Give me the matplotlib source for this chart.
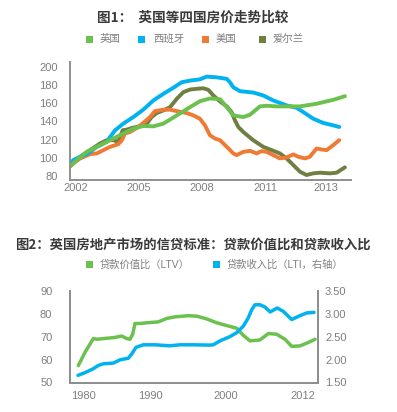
import matplotlib
matplotlib.use('Agg')
import matplotlib.pyplot as plt
from matplotlib.patches import Rectangle

plt.rcParams['font.family'] = ['Liberation Sans', 'Noto Sans CJK SC']

W, H = 397, 412

# ---- 图1 数据 (读图估算, 指数) ----
uk_x = [2001.71, 2002.03, 2002.51, 2002.99, 2003.62, 2004.25, 2004.73, 2005.20, 2005.68,
        2006.16, 2006.80, 2007.43, 2007.90, 2008.38, 2008.86, 2009.18, 2009.49, 2009.97,
        2010.29, 2010.76, 2011.08, 2011.56, 2012.19, 2012.67, 2013.46, 2014.25, 2014.81]
uk_y = [90.2, 97.5, 106.5, 112.0, 119.3, 126.6, 132.0, 134.9, 134.5,
        137.5, 146.5, 155.6, 162.1, 165.1, 164.3, 155.6, 146.5, 144.7,
        147.3, 156.4, 157.1, 156.4, 156.4, 156.4, 159.3, 163.6, 167.6]

es_x = [2001.67, 2001.87, 2002.19, 2002.51, 2002.99, 2003.46, 2003.62, 2003.86, 2004.25,
        2004.73, 2005.20, 2005.68, 2006.16, 2006.63, 2007.03, 2007.43, 2007.90, 2008.22,
        2008.70, 2009.18, 2009.33, 2009.49, 2009.81, 2010.44, 2010.92, 2011.40, 2012.03,
        2012.51, 2012.83, 2013.30, 2013.78, 2014.25, 2014.54]
es_y = [92.0, 97.5, 101.1, 104.0, 112.0, 117.4, 122.9, 130.2, 137.5,
        144.7, 152.8, 162.9, 170.2, 176.8, 182.9, 184.7, 186.1, 189.1,
        188.3, 186.6, 182.9, 177.4, 173.1, 171.6, 168.4, 162.9, 157.5,
        154.9, 150.1, 142.9, 138.2, 135.6, 133.8]

us_x = [2001.71, 2002.19, 2002.67, 2002.99, 2003.30, 2003.62, 2004.01, 2004.18, 2004.33,
        2004.57, 2004.89, 2005.20, 2005.52, 2005.76, 2006.16, 2006.48, 2006.80, 2007.27,
        2007.59, 2007.90, 2008.14, 2008.38, 2008.62, 2008.86, 2009.18, 2009.49, 2009.65,
        2009.97, 2010.29, 2010.60, 2010.84, 2011.08, 2011.40, 2011.71, 2012.03, 2012.35,
        2012.59, 2012.90, 2013.14, 2013.46, 2013.70, 2013.94, 2014.25, 2014.54]
us_y = [91.2, 99.3, 104.0, 104.8, 108.4, 112.0, 114.9, 119.3, 126.6,
        128.3, 132.7, 138.2, 144.7, 151.2, 152.8, 152.8, 151.2, 149.1,
        146.5, 142.9, 135.6, 124.7, 121.1, 119.3, 112.0, 104.8, 102.9,
        106.5, 107.6, 104.8, 107.3, 106.5, 102.9, 99.3, 100.4, 103.7,
        101.1, 99.3, 101.1, 110.2, 109.1, 108.4, 113.8, 119.3]

ie_x = [2001.71, 2002.19, 2002.67, 2003.14, 2003.46, 2003.78, 2004.01, 2004.22, 2004.41,
        2004.73, 2005.05, 2005.37, 2005.60, 2005.84, 2006.16, 2006.48, 2006.80, 2007.11,
        2007.43, 2007.75, 2008.06, 2008.30, 2008.54, 2008.86, 2009.18, 2009.41, 2009.57,
        2009.73, 2009.97, 2010.44, 2010.92, 2011.24, 2011.71, 2012.03, 2012.35, 2012.67,
        2012.98, 2013.30, 2013.62, 2014.10, 2014.41, 2014.81]
ie_y = [91.2, 101.1, 108.4, 115.7, 119.3, 119.3, 117.4, 130.2, 130.9,
        133.1, 134.5, 137.5, 144.7, 149.1, 152.0, 155.6, 164.8, 172.0,
        174.9, 175.7, 176.3, 174.6, 168.4, 161.8, 156.4, 150.1, 141.1,
        133.8, 128.3, 119.3, 112.0, 109.1, 104.8, 99.3, 92.0, 84.7,
        81.1, 82.9, 83.6, 82.9, 83.6, 89.5]

fig1_ticks = [2002, 2005, 2008, 2011, 2013.9]
fig1_labels = ['2002', '2005', '2008', '2011', '2013']
fig1_yticks = [80, 100, 120, 140, 160, 180, 200]

# ---- 图2 数据 ----
ltv_x = [1980.04, 1980.95, 1982.07, 1982.53, 1983.42, 1984.77, 1985.91, 1986.58, 1987.03,
         1987.39, 1987.70, 1988.38, 1989.28, 1990.85, 1991.99, 1993.11, 1994.91, 1996.04,
         1997.39, 1998.74, 2000.09, 2001.45, 2002.34, 2003.24, 2004.59, 2005.72, 2006.85,
         2007.97, 2008.88, 2010.00, 2011.12, 2012.03]
ltv_y = [57.4, 63.2, 69.2, 68.9, 69.2, 69.6, 70.3, 69.2, 68.9,
         71.1, 75.8, 75.8, 76.1, 76.5, 78.0, 78.7, 79.2, 79.0,
         77.8, 76.1, 74.9, 73.7, 70.6, 68.2, 68.6, 71.4, 71.1,
         68.9, 65.8, 66.0, 67.5, 68.9]

lti_x = [1980.00, 1980.95, 1982.07, 1982.74, 1983.42, 1984.77, 1985.68, 1986.80, 1987.26,
         1987.84, 1988.82, 1990.41, 1992.43, 1993.78, 1995.58, 1997.84, 1998.28, 1999.19,
         2000.54, 2001.45, 2002.34, 2003.01, 2003.47, 2003.92, 2004.59, 2005.27, 2005.95,
         2006.93, 2007.74, 2008.88, 2010.00, 2010.91, 2011.89]
lti_y = [1.657, 1.715, 1.801, 1.872, 1.909, 1.924, 1.995, 2.031, 2.124,
         2.268, 2.324, 2.324, 2.302, 2.324, 2.324, 2.317, 2.324, 2.410,
         2.504, 2.590, 2.732, 2.913, 3.091, 3.199, 3.199, 3.149, 3.042,
         3.128, 3.055, 2.876, 2.962, 3.020, 3.033]

fig2_ticks = [1980.7, 1989.8, 2000.0, 2010.4]
fig2_labels = ['1980', '1990', '2000', '2012']

green = '#6cc04e'
blue = '#00b2ef'
orange = '#ee7a35'
olive = '#6f7f42'
axis_grey = '#8f8f8f'
text_grey = '#7f7f7f'
title_col = '#3a3a3a'

fig = plt.figure(figsize=(W / 100, H / 100), dpi=100)


def px_axes(left, right, top, bottom):
    return fig.add_axes([left / W, 1 - bottom / H, (right - left) / W, (bottom - top) / H])


def legend_item(xsq, xtxt, y, label, color, size):
    s = 7
    fig.patches.append(Rectangle(((xsq - s / 2) / W, 1 - (y + s / 2) / H), s / W, s / H,
                                 transform=fig.transFigure, color=color, lw=0))
    fig.text(xtxt / W, 1 - y / H, label, fontsize=size, color=text_grey,
             ha='left', va='center')


# ---------- 图1 ----------
fig.text(193 / W, 1 - 18 / H, '图1：  英国等四国房价走势比较', fontsize=9.8,
         fontweight='bold', color=title_col, ha='center', va='center',
         family=['Noto Sans CJK SC'])
legend_item(89, 100, 39, '英国', green, 7.5)
legend_item(141, 153, 39, '西班牙', blue, 7.5)
legend_item(205, 216, 39, '美国', orange, 7.5)
legend_item(262, 273, 39, '爱尔兰', olive, 7.5)

ax1 = px_axes(70, 351, 62.3, 180)
ax1.plot(ie_x, ie_y, color=olive, lw=2.8, solid_capstyle='round')
ax1.plot(us_x, us_y, color=orange, lw=2.8, solid_capstyle='round')
ax1.plot(es_x, es_y, color=blue, lw=2.8, solid_capstyle='round')
ax1.plot(uk_x, uk_y, color=green, lw=2.8, solid_capstyle='round')
ax1.set_xlim(2001.71, 2015.1)
ax1.set_ylim(75.6, 204.8)
ax1.set_xticks(fig1_ticks)
ax1.set_xticklabels(fig1_labels)
ax1.set_yticks(fig1_yticks)
ax1.tick_params(axis='both', length=0, labelsize=8, colors=text_grey)
ax1.tick_params(axis='y', pad=8.6)
ax1.tick_params(axis='x', pad=2.5)
for side in ['top', 'right']:
    ax1.spines[side].set_visible(False)
for side in ['left', 'bottom']:
    ax1.spines[side].set_color(axis_grey)
    ax1.spines[side].set_linewidth(1.4)
ax1.patch.set_alpha(0)

# ---------- 图2 ----------
fig.text(192.5 / W, 1 - 245 / H, '图2：英国房地产市场的信贷标准：贷款价值比和贷款收入比',
         fontsize=9.6, fontweight='bold', color=title_col, ha='center', va='center',
         family=['Noto Sans CJK SC'])
legend_item(89, 100, 264.3, '贷款价值比（LTV）', green, 7.4)
legend_item(216, 227, 264.3, '贷款收入比（LTI，右轴）', blue, 7.4)

ax2 = px_axes(70, 318.3, 291, 382.5)
ax2.plot(ltv_x, ltv_y, color=green, lw=2.5, solid_capstyle='round')
ax2.set_xlim(1978.92, 2012.47)
ax2.set_ylim(50, 90)
ax2.set_yticks([50, 60, 70, 80, 90])
ax2.set_xticks(fig2_ticks)
ax2.set_xticklabels(fig2_labels)
ax2.tick_params(axis='both', length=0, labelsize=8, colors=text_grey)
ax2.tick_params(axis='y', pad=12.7)
ax2.tick_params(axis='x', pad=6.3)

ax3 = ax2.twinx()
ax3.plot(lti_x, lti_y, color=blue, lw=2.5, solid_capstyle='round')
ax3.set_ylim(1.5, 3.5)
ax3.set_yticks([1.5, 2.0, 2.5, 3.0, 3.5])
ax3.set_yticklabels(['1.50', '2.00', '2.50', '3.00', '3.50'])
ax3.tick_params(axis='y', length=0, labelsize=8, colors=text_grey, pad=4.8)

for a in (ax2, ax3):
    a.spines['top'].set_visible(False)
    for side in ['left', 'right', 'bottom']:
        a.spines[side].set_color(axis_grey)
        a.spines[side].set_linewidth(1.4)
    a.patch.set_alpha(0)

fig.savefig('out.png', dpi=100)
